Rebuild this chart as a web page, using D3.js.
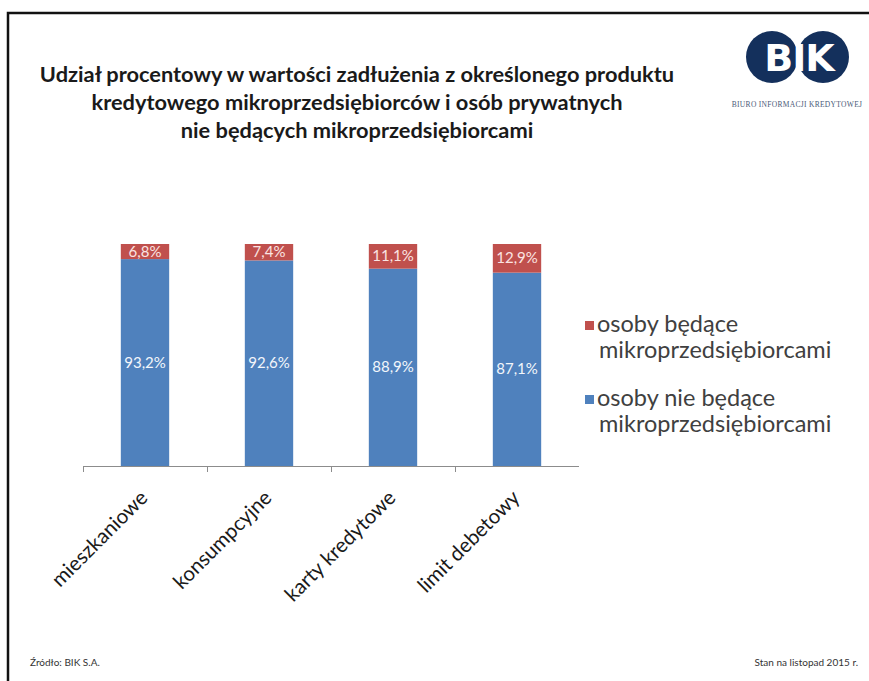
<!DOCTYPE html>
<html>
<head>
<meta charset="utf-8">
<script src="https://cdn.jsdelivr.net/npm/d3@7"></script>
<style>
  body { margin: 0; background: #fff; }
  svg { display: block; font-family: Lato, "Open Sans", sans-serif; }
</style>
</head>
<body>
<svg id="chart" width="869" height="681"></svg>
<script>
// data
const categories = ["mieszkaniowe", "konsumpcyjne", "karty kredytowe", "limit debetowy"];
const microShare = [6.8, 7.4, 11.1, 12.9];      // osoby będące mikroprzedsiębiorcami
const nonMicroShare = [93.2, 92.6, 88.9, 87.1]; // osoby nie będące mikroprzedsiębiorcami
const titleLines = [
  "Udział procentowy w wartości zadłużenia z określonego produktu",
  "kredytowego mikroprzedsiębiorców i osób prywatnych",
  "nie będących mikroprzedsiębiorcami"
];

const colors = { micro: "#C0504D", nonMicro: "#4F81BD" };

let svg = d3.select("#chart");

// frame (left + top black edges)
svg.append("path")
    .attr("d", "M8,681 V13 H869")
    .attr("fill", "none")
    .attr("stroke", "#111")
    .attr("stroke-width", 2.5);

// title
svg.append("text")
    .attr("text-anchor", "middle")
    .attr("font-weight", "bold")
    .attr("font-size", 21.8)
    .attr("fill", "#1a1a1a")
    .selectAll("tspan")
    .data(titleLines)
    .join("tspan")
    .attr("x", 357)
    .attr("y", (d, i) => 82 + i * 28)
    .text(d => d);

// logo
let logo = svg.append("g").attr("class", "logo");
logo.selectAll("circle")
    .data([772, 823])
    .join("circle")
    .attr("cx", d => d)
    .attr("cy", 57)
    .attr("r", 26)
    .attr("fill", "#14305c");
logo.append("text")
    .attr("x", 799).attr("y", 71)
    .attr("text-anchor", "middle")
    .attr("font-family", "'DejaVu Sans', sans-serif")
    .attr("font-weight", "bold")
    .attr("font-size", 38)
    .attr("letter-spacing", -1)
    .attr("fill", "#fff")
    .text("BIK");
logo.append("text")
    .attr("x", 797).attr("y", 107)
    .attr("text-anchor", "middle")
    .attr("font-family", "'Liberation Serif', serif")
    .attr("font-size", 7.5)
    .attr("letter-spacing", 0.3)
    .attr("fill", "#4a5a78")
    .text("BIURO INFORMACJI KREDYTOWEJ");

// chart area
let x = d3.scaleBand()
    .domain(categories)
    .range([83, 579])
    .paddingInner(0.61)
    .paddingOuter(0.305);

let y = d3.scaleLinear()
    .domain([0, 100])
    .range([466, 244]);

let rows = categories.map((c, i) => ({ cat: c, micro: microShare[i], nonMicro: nonMicroShare[i] }));
let stack = d3.stack().keys(["nonMicro", "micro"])(rows);

let barGroup = svg.append("g").attr("class", "barGroup");
barGroup.selectAll("g")
    .data(stack)
    .join("g")
    .attr("fill", d => colors[d.key])
    .selectAll("rect")
    .data(d => d)
    .join("rect")
    .attr("x", d => x(d.data.cat))
    .attr("width", x.bandwidth())
    .attr("y", d => y(d[1]))
    .attr("height", d => y(d[0]) - y(d[1]));

// value labels
let fmt = v => v.toFixed(1).replace(".", ",") + "%";
let labelGroup = svg.append("g").attr("class", "labels");
stack.forEach(s => {
    labelGroup.selectAll(null)
        .data(s)
        .join("text")
        .attr("x", d => x(d.data.cat) + x.bandwidth() / 2)
        .attr("y", d => (y(d[0]) + y(d[1])) / 2 + 5)
        .attr("text-anchor", "middle")
        .attr("font-size", 15)
        .attr("fill", s.key == "micro" ? "#fbe4e2" : "#f2f6fb")
        .text(d => fmt(d.data[s.key]));
});

// x axis: baseline + ticks between categories
let axisGroup = svg.append("g").attr("class", "axis");
axisGroup.append("line")
    .attr("x1", 83).attr("x2", 579)
    .attr("y1", y(0) + 0.5).attr("y2", y(0) + 0.5)
    .attr("stroke", "#8c8c8c").attr("stroke-width", 1);
let step = x.step();
let tickXs = d3.range(categories.length).map(i => x(categories[0]) - x.paddingOuter() * step + i * step);
axisGroup.selectAll(".tick")
    .data(tickXs)
    .join("line")
    .attr("class", "tick")
    .attr("x1", d => d + 0.5).attr("x2", d => d + 0.5)
    .attr("y1", y(0)).attr("y2", y(0) + 6)
    .attr("stroke", "#8c8c8c");

axisGroup.selectAll(".cat")
    .data(categories)
    .join("text")
    .attr("class", "cat")
    .attr("text-anchor", "end")
    .attr("font-size", 20.5)
    .attr("fill", "#1a1a1a")
    .attr("transform", d => `translate(${x(d) + x.bandwidth() / 2 + 4},${y(0) + 33}) rotate(-45)`)
    .text(d => d);

// legend
let legendItems = [
    { key: "micro", lines: ["osoby będące", "mikroprzedsiębiorcami"], y: 332 },
    { key: "nonMicro", lines: ["osoby nie będące", "mikroprzedsiębiorcami"], y: 406 }
];
let legend = svg.append("g").attr("class", "legend");
legendItems.forEach(item => {
    legend.append("rect")
        .attr("x", 585).attr("y", item.y - 11)
        .attr("width", 9).attr("height", 9)
        .attr("fill", colors[item.key]);
    legend.append("text")
        .attr("font-size", 23.5)
        .attr("fill", "#404040")
        .selectAll("tspan")
        .data(item.lines)
        .join("tspan")
        .attr("x", (d, i) => i == 0 ? 597 : 599)
        .attr("y", (d, i) => item.y + i * 26)
        .text(d => d);
});

// footer
svg.append("text")
    .attr("x", 30).attr("y", 666)
    .attr("font-size", 10)
    .attr("fill", "#333")
    .text("Źródło: BIK S.A.");
svg.append("text")
    .attr("x", 858).attr("y", 666)
    .attr("text-anchor", "end")
    .attr("font-size", 10)
    .attr("fill", "#333")
    .text("Stan na listopad 2015 r.");
</script>
</body>
</html>
